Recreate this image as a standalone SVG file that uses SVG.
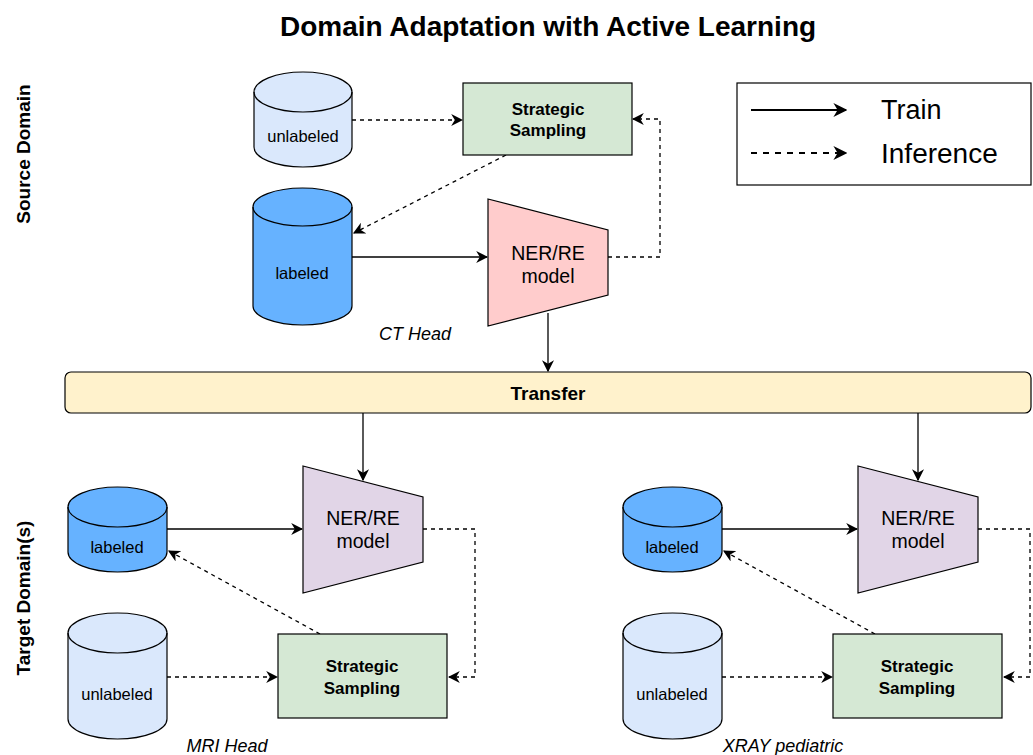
<svg xmlns="http://www.w3.org/2000/svg" width="1033" height="755" viewBox="0 0 1033 755">
<defs>
<marker id="ah" viewBox="0 0 10 10" refX="9" refY="5" markerWidth="12" markerHeight="12" markerUnits="userSpaceOnUse" orient="auto">
<path d="M0,0 L10,5 L0,10 L3,5 Z" fill="#000"/>
</marker>
<marker id="ahL" viewBox="0 0 10 10" refX="9" refY="5" markerWidth="14" markerHeight="14" markerUnits="userSpaceOnUse" orient="auto">
<path d="M0,0 L10,5 L0,10 L3,5 Z" fill="#000"/>
</marker>
<style>
.t{font-family:"Liberation Sans",Arial,sans-serif;fill:#000;text-anchor:middle;dominant-baseline:central}
.b{font-weight:bold}
.sh{stroke:#000;stroke-width:1.2}
.unl{fill:#dae8fc}
.lab{fill:#66b2ff}
.ss{fill:#d5e8d4}
.ner1{fill:#ffcccc}
.ner2{fill:#e1d5e7}
.solid{fill:none;stroke:#000;stroke-width:1.3;marker-end:url(#ah)}
.dash{fill:none;stroke:#000;stroke-width:1.3;stroke-dasharray:4 4;marker-end:url(#ah)}
.inner{fill:none;stroke:#000;stroke-width:1.2}
.cyl{font-size:16.5px}
.ssl{font-size:17px}
.ner{font-size:19.5px}
.cap{font-size:18px;font-style:italic}
</style>
</defs>
<rect width="1033" height="755" fill="#fff"/>
<text class="t b" x="548" y="26" font-size="28">Domain Adaptation with Active Learning</text>
<text class="t b" font-size="19" transform="translate(23,154) rotate(-90)">Source Domain</text>
<text class="t b" font-size="19" transform="translate(23,598) rotate(-90)">Target Domain(s)</text>

<g id="legend">
<rect x="737" y="83" width="294" height="102" fill="#fff" stroke="#000" stroke-width="1.2"/>
<line x1="751" y1="110" x2="846" y2="110" fill="none" stroke="#000" stroke-width="2" marker-end="url(#ahL)"/>
<line x1="751" y1="153" x2="846" y2="153" fill="none" stroke="#000" stroke-width="2" stroke-dasharray="6 6" marker-end="url(#ahL)"/>
<text class="t" x="881" y="110" font-size="27" style="text-anchor:start">Train</text>
<text class="t" x="881" y="153" font-size="28" style="text-anchor:start">Inference</text>
</g>

<g id="connectors">
<line x1="352" y1="120" x2="462" y2="120" class="dash"/>
<line x1="506" y1="155" x2="354" y2="233" class="dash"/>
<line x1="352" y1="257" x2="487" y2="257" class="solid"/>
<polyline points="608,257 660,257 660,119 633,119" class="dash"/>
<line x1="548" y1="313" x2="548" y2="371" class="solid"/>
<line x1="363" y1="413" x2="363" y2="480" class="solid"/>
<line x1="918" y1="413" x2="918" y2="480" class="solid"/>
<line x1="167" y1="529" x2="302" y2="529" class="solid"/>
<polyline points="423,529 475,529 475,677 449,677" class="dash"/>
<line x1="167" y1="677" x2="277" y2="677" class="dash"/>
<line x1="320" y1="634" x2="169" y2="551" class="dash"/>
<line x1="722" y1="529" x2="857" y2="529" class="solid"/>
<polyline points="978,529 1030,529 1030,677 1004,677" class="dash"/>
<line x1="722" y1="677" x2="832" y2="677" class="dash"/>
<line x1="875" y1="634" x2="724" y2="551" class="dash"/>
</g>

<g id="src-unlabeled">
<path class="unl sh" d="M254,92 A49,20 0 0 1 352,92 L352,147 A49,20 0 0 1 254,147 Z"/>
<path class="inner" d="M254,92 A49,20 0 0 0 352,92"/>
<text class="t cyl" x="303" y="136">unlabeled</text>
</g>
<g id="src-labeled">
<path class="lab sh" d="M253,207 A49.5,19 0 0 1 352,207 L352,306 A49.5,19 0 0 1 253,306 Z"/>
<path class="inner" d="M253,207 A49.5,19 0 0 0 352,207"/>
<text class="t cyl" x="302" y="273">labeled</text>
</g>
<g id="src-sampling">
<rect class="ss sh" x="463" y="83" width="169" height="72"/>
<text class="t b ssl" x="548" y="109">Strategic</text>
<text class="t b ssl" x="548" y="130">Sampling</text>
</g>
<g id="src-model">
<polygon class="ner1 sh" points="488,199 608,230 608,295 488,326"/>
<text class="t ner" x="548" y="253">NER/RE</text>
<text class="t ner" x="548" y="276">model</text>
</g>
<text class="t cap" x="415" y="334">CT Head</text>

<g id="transfer">
<rect x="65" y="372" width="966" height="41" rx="6" fill="#fff2cc" stroke="#000" stroke-width="1.2"/>
<text class="t b" x="548" y="393" font-size="19">Transfer</text>
</g>

<g id="mri-labeled">
<path class="lab sh" d="M68,507 A49.5,20 0 0 1 167,507 L167,552 A49.5,20 0 0 1 68,552 Z"/>
<path class="inner" d="M68,507 A49.5,20 0 0 0 167,507"/>
<text class="t cyl" x="117" y="547">labeled</text>
</g>
<g id="mri-unlabeled">
<path class="unl sh" d="M68,633 A49.5,20 0 0 1 167,633 L167,719 A49.5,20 0 0 1 68,719 Z"/>
<path class="inner" d="M68,633 A49.5,20 0 0 0 167,633"/>
<text class="t cyl" x="117" y="694">unlabeled</text>
</g>
<g id="mri-model">
<polygon class="ner2 sh" points="303,466 423,497 423,562 303,593"/>
<text class="t ner" x="363" y="518">NER/RE</text>
<text class="t ner" x="363" y="541">model</text>
</g>
<g id="mri-sampling">
<rect class="ss sh" x="278" y="634" width="169" height="84"/>
<text class="t b ssl" x="362" y="666">Strategic</text>
<text class="t b ssl" x="362" y="688">Sampling</text>
</g>
<text class="t cap" x="227" y="746">MRI Head</text>

<g id="xray-labeled">
<path class="lab sh" d="M623,507 A49.5,20 0 0 1 722,507 L722,552 A49.5,20 0 0 1 623,552 Z"/>
<path class="inner" d="M623,507 A49.5,20 0 0 0 722,507"/>
<text class="t cyl" x="672" y="547">labeled</text>
</g>
<g id="xray-unlabeled">
<path class="unl sh" d="M623,633 A49.5,20 0 0 1 722,633 L722,719 A49.5,20 0 0 1 623,719 Z"/>
<path class="inner" d="M623,633 A49.5,20 0 0 0 722,633"/>
<text class="t cyl" x="672" y="694">unlabeled</text>
</g>
<g id="xray-model">
<polygon class="ner2 sh" points="858,466 978,497 978,562 858,593"/>
<text class="t ner" x="918" y="518">NER/RE</text>
<text class="t ner" x="918" y="541">model</text>
</g>
<g id="xray-sampling">
<rect class="ss sh" x="833" y="634" width="169" height="84"/>
<text class="t b ssl" x="917" y="666">Strategic</text>
<text class="t b ssl" x="917" y="688">Sampling</text>
</g>
<text class="t cap" x="783" y="746">XRAY pediatric</text>
</svg>
